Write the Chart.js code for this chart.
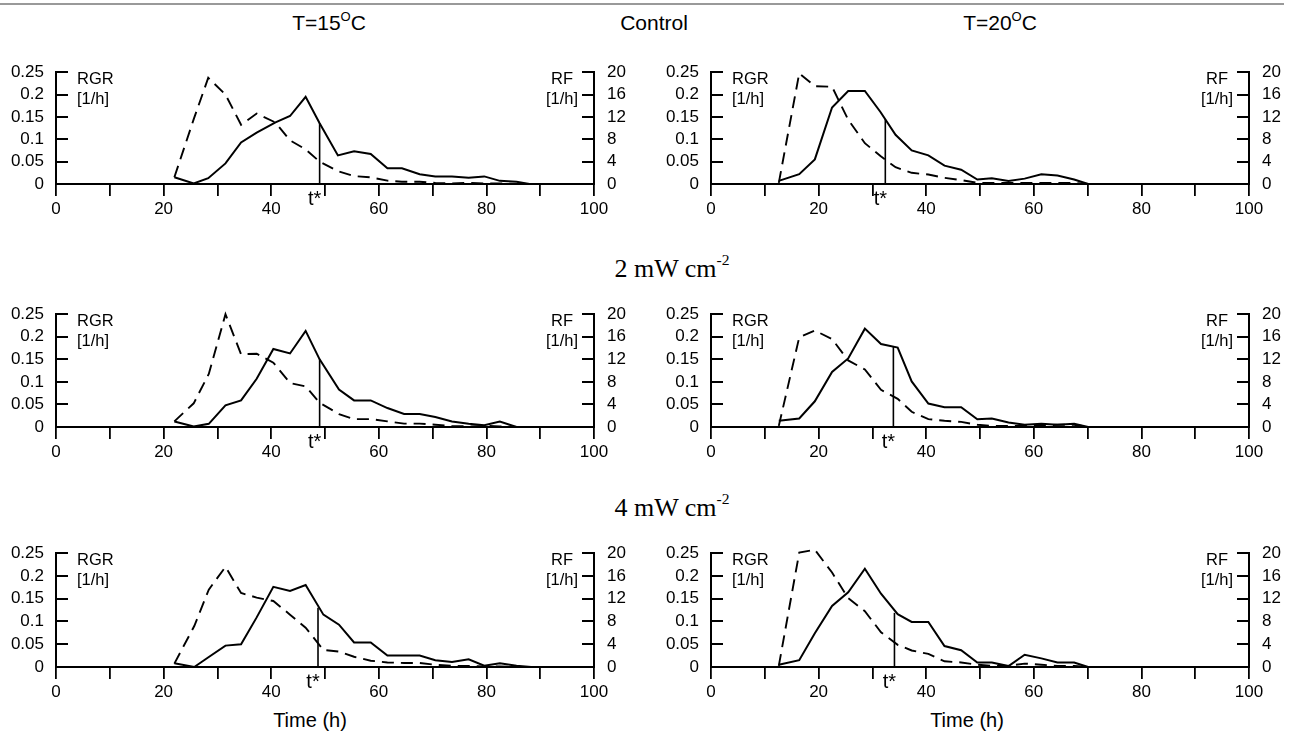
<!DOCTYPE html>
<html>
<head>
<meta charset="utf-8">
<script src="https://cdn.jsdelivr.net/npm/chart.js@4.4.1/dist/chart.umd.min.js"></script>
<style>
  body { margin: 0; background: #fff; width: 1293px; height: 737px; position: relative; overflow: hidden;
         font-family: "Liberation Sans", Arial, sans-serif; color: #000; }
  canvas { position: absolute; }
  .lbl { position: absolute; white-space: nowrap; transform: translateX(-50%); line-height: 1; }
  .lbl sup { font-size: 0.62em; vertical-align: top; position: relative; top: -2px; }
  .serif { font-family: "Liberation Serif", "Times New Roman", serif; font-size: 26px; }
  .serif sup { font-size: 0.6em; top: -4px; }
</style>
</head>
<body>
<div style="position:absolute;left:0;top:3px;width:1284px;height:2px;background:#999"></div>
<div class="lbl" style="left:329px;top:12px;font-size:21px">T=15<sup>O</sup>C</div>
<div class="lbl" style="left:654px;top:12px;font-size:21px">Control</div>
<div class="lbl" style="left:1000px;top:12px;font-size:21px">T=20<sup>O</sup>C</div>
<div class="lbl serif" style="left:672px;top:256px">2 mW cm<sup>-2</sup></div>
<div class="lbl serif" style="left:672px;top:495px">4 mW cm<sup>-2</sup></div>
<div class="lbl" style="left:310px;top:710px;font-size:20px">Time (h)</div>
<div class="lbl" style="left:967px;top:710px;font-size:20px">Time (h)</div>

<canvas id="c15ctl" width="650" height="175" style="left:0;top:49px"></canvas>
<canvas id="c20ctl" width="643" height="175" style="left:650px;top:49px"></canvas>
<canvas id="c15uv2" width="650" height="176" style="left:0;top:291px"></canvas>
<canvas id="c20uv2" width="643" height="176" style="left:650px;top:291px"></canvas>
<canvas id="c15uv4" width="650" height="177" style="left:0;top:530px"></canvas>
<canvas id="c20uv4" width="643" height="177" style="left:650px;top:530px"></canvas>

<script>
// T=15C, control
const hours15ctl = [22.0, 25.6, 28.3, 31.5, 34.4, 37.3, 40.8, 43.5, 46.4, 49.0, 52.4, 55.4, 58.5, 61.6, 64.3, 67.6, 70.5, 73.6, 76.7, 79.6, 82.5, 85.6, 88.0];
const rgr15ctl = [0.015, 0.001, 0.013, 0.046, 0.093, 0.115, 0.138, 0.152, 0.195, 0.136, 0.064, 0.073, 0.067, 0.035, 0.035, 0.022, 0.017, 0.017, 0.014, 0.017, 0.007, 0.005, 0];
const rf15ctl = [1.2, 11.6, 19.0, 16.0, 10.6, 12.6, 11.0, 7.8, 6.2, 4.0, 2.3, 1.4, 1.2, 0.6, 0.4, 0.4, 0.2, 0.1, 0.2, 0.1, 0.1, 0, 0];

// T=20C, control
const hours20ctl = [12.6, 16.4, 19.3, 22.5, 25.5, 28.6, 31.5, 34.3, 37.3, 40.4, 43.4, 46.5, 49.5, 52.2, 55.3, 58.3, 61.4, 64.4, 67.5, 70.1];
const rgr20ctl = [0.007, 0.022, 0.055, 0.171, 0.208, 0.208, 0.161, 0.110, 0.075, 0.064, 0.041, 0.032, 0.010, 0.013, 0.007, 0.012, 0.022, 0.019, 0.010, 0];
const rf20ctl = [0.2, 19.8, 17.5, 17.4, 11.5, 7.3, 5.0, 3.0, 2.0, 1.7, 1.1, 0.7, 0.2, 0.2, 0.2, 0.2, 0.2, 0.2, 0.2, 0];

// T=15C, 2 mW cm-2
const hours15uv2 = [22.0, 25.6, 28.4, 31.5, 34.4, 37.3, 40.4, 43.5, 46.4, 49.0, 52.6, 55.4, 58.5, 61.6, 64.7, 67.6, 70.5, 73.6, 76.7, 79.6, 82.5, 85.6];
const rgr15uv2 = [0.012, 0.001, 0.007, 0.048, 0.059, 0.107, 0.173, 0.163, 0.213, 0.150, 0.083, 0.059, 0.059, 0.042, 0.029, 0.029, 0.022, 0.012, 0.007, 0.004, 0.012, 0];
const rf15uv2 = [1.0, 4.2, 9.4, 20.0, 12.9, 13.0, 11.4, 7.8, 7.2, 4.3, 2.3, 1.4, 1.4, 1.0, 0.6, 0.6, 0.4, 0.2, 0.1, 0.2, 0.1, 0];

// T=20C, 2 mW cm-2
const hours20uv2 = [12.6, 16.4, 19.3, 22.5, 25.5, 28.6, 31.6, 34.7, 37.3, 40.4, 43.4, 46.5, 49.5, 52.2, 55.3, 58.3, 61.4, 64.4, 67.5, 70.1];
const rgr20uv2 = [0.014, 0.019, 0.057, 0.122, 0.152, 0.218, 0.184, 0.176, 0.101, 0.052, 0.044, 0.044, 0.017, 0.019, 0.010, 0.005, 0.007, 0.005, 0.007, 0];
const rf20uv2 = [0.2, 15.9, 17.1, 15.6, 11.8, 10.2, 6.6, 5.0, 2.7, 1.4, 1.1, 0.9, 0.4, 0.2, 0.2, 0.2, 0.2, 0.4, 0.4, 0];

// T=15C, 4 mW cm-2
const hours15uv4 = [22.0, 25.7, 28.4, 31.5, 34.4, 37.3, 40.4, 43.5, 46.4, 49.7, 52.6, 55.4, 58.5, 61.6, 64.7, 67.6, 70.5, 73.6, 76.7, 79.6, 82.5, 85.6, 88.3];
const rgr15uv4 = [0.008, 0, 0.022, 0.047, 0.050, 0.109, 0.176, 0.167, 0.180, 0.115, 0.093, 0.054, 0.054, 0.025, 0.025, 0.025, 0.015, 0.011, 0.017, 0.003, 0.008, 0.003, 0];
const rf15uv4 = [0.6, 7.2, 13.6, 17.6, 13.0, 12.2, 11.6, 9.2, 6.9, 3.0, 2.7, 1.8, 1.1, 0.8, 0.7, 0.7, 0.4, 0.2, 0.2, 0.1, 0.1, 0, 0];

// T=20C, 4 mW cm-2
const hours20uv4 = [12.6, 16.4, 19.3, 22.5, 25.5, 28.6, 31.6, 34.7, 37.3, 40.4, 43.4, 46.5, 49.5, 52.2, 55.3, 58.3, 61.4, 64.4, 67.5, 70.1];
const rgr20uv4 = [0.005, 0.015, 0.074, 0.134, 0.164, 0.216, 0.161, 0.116, 0.099, 0.099, 0.046, 0.037, 0.010, 0.010, 0.002, 0.027, 0.019, 0.010, 0.010, 0];
const rf20uv4 = [0.2, 20.1, 20.6, 16.6, 12.1, 9.8, 6.1, 3.9, 2.9, 2.3, 1.0, 0.8, 0.4, 0.2, 0.2, 0.6, 0.4, 0.2, 0.2, 0];

// t* (h) and RGR at t*, panel order: 15ctl, 20ctl, 15uv2, 20uv2, 15uv4, 20uv4
const tStar = [49.0, 32.4, 49.0, 33.9, 48.7, 34.1];
const tStarRgr = [0.136, 0.145, 0.150, 0.179, 0.130, 0.119];

const rgrTicks = [0, 0.05, 0.1, 0.15, 0.2, 0.25];
const rfTicks = [0, 4, 8, 12, 16, 20];

const FONT = '"Liberation Sans", Arial, sans-serif';

// inward y ticks + RGR / RF / t* labels
const panelDecor = {
  id: 'panelDecor',
  afterDraw(chart, args, opts) {
    const { ctx, chartArea: a, scales } = chart;
    ctx.save();
    ctx.strokeStyle = '#000';
    ctx.lineWidth = 1.8;
    ctx.beginPath();
    rgrTicks.forEach(v => {
      const py = Math.round(scales.y.getPixelForValue(v));
      ctx.moveTo(a.left, py); ctx.lineTo(a.left + 12, py);
    });
    rfTicks.forEach(v => {
      const py = Math.round(scales.y1.getPixelForValue(v));
      ctx.moveTo(a.right - 12, py); ctx.lineTo(a.right, py);
    });
    ctx.stroke();

    ctx.fillStyle = '#000';
    ctx.font = '16.5px ' + FONT;
    ctx.textBaseline = 'top';
    ctx.textAlign = 'left';
    ctx.fillText('RGR', a.left + 21, a.top - 1);
    ctx.fillText('[1/h]', a.left + 21, a.top + 19);
    ctx.textAlign = 'center';
    ctx.fillText('RF', a.right - 32, a.top - 1);
    ctx.fillText('[1/h]', a.right - 32, a.top + 19);

    ctx.font = '20px ' + FONT;
    ctx.fillText('t*', scales.x.getPixelForValue(opts.t) - 5, a.bottom + 5);
    ctx.restore();
  }
};

function createChart(element, hours, rgr, rf, idx, leftW, rightW) {
  const fmt = v => String(+v.toFixed(2));
  const data = {
    datasets: [
      {
        label: 'RGR',
        data: hours.map((h, i) => ({ x: h, y: rgr[i] })),
        yAxisID: 'y',
        borderColor: '#000',
        borderWidth: 2,
      },
      {
        label: 'RF',
        data: hours.map((h, i) => ({ x: h, y: rf[i] })),
        yAxisID: 'y1',
        borderColor: '#000',
        borderWidth: 1.9,
        borderDash: [12, 7],
      },
      {
        label: 't*',
        data: [{ x: tStar[idx], y: 0 }, { x: tStar[idx], y: tStarRgr[idx] }],
        yAxisID: 'y',
        borderColor: '#000',
        borderWidth: 1.6,
      },
    ],
  };

  const tickFont = { family: FONT, size: 17 };
  const options = {
    responsive: false,
    animation: false,
    events: [],
    layout: { padding: { top: 12, bottom: 0, left: 0, right: 0 } },
    elements: { point: { radius: 0 }, line: { tension: 0, fill: false } },
    clip: false,
    plugins: { legend: { display: false }, tooltip: { enabled: false }, panelDecor: { t: tStar[idx] } },
    scales: {
      x: {
        type: 'linear', min: 0, max: 100,
        ticks: { stepSize: 10, autoSkip: false, maxRotation: 0, color: '#000', font: tickFont, padding: 3,
                 callback: v => (v % 20 === 0 ? v : '') },
        grid: { drawOnChartArea: false, drawTicks: true, tickLength: 12, color: '#000', lineWidth: 1.8 },
        border: { display: true, color: '#000', width: 2 },
        afterFit: s => { s.height = 40; },
      },
      y: {
        position: 'left', min: 0, max: 0.25,
        afterBuildTicks: s => { s.ticks = rgrTicks.map(v => ({ value: v })); },
        ticks: { autoSkip: false, color: '#000', font: tickFont, padding: 12, callback: fmt },
        grid: { display: false, drawTicks: false },
        border: { display: true, color: '#000', width: 2 },
        afterFit: s => { s.width = leftW; },
      },
      y1: {
        position: 'right', min: 0, max: 20,
        afterBuildTicks: s => { s.ticks = rfTicks.map(v => ({ value: v })); },
        ticks: { autoSkip: false, color: '#000', font: tickFont, padding: 13 },
        grid: { display: false, drawTicks: false },
        border: { display: true, color: '#000', width: 2 },
        afterFit: s => { s.width = rightW; },
      },
    },
  };

  const ctx = document.getElementById(element);
  return new Chart(ctx, { type: 'line', data: data, options: options, plugins: [panelDecor] });
}

createChart('c15ctl', hours15ctl, rgr15ctl, rf15ctl, 0, 56, 56);
createChart('c20ctl', hours20ctl, rgr20ctl, rf20ctl, 1, 61, 44);
createChart('c15uv2', hours15uv2, rgr15uv2, rf15uv2, 2, 56, 56);
createChart('c20uv2', hours20uv2, rgr20uv2, rf20uv2, 3, 61, 44);
createChart('c15uv4', hours15uv4, rgr15uv4, rf15uv4, 4, 56, 56);
createChart('c20uv4', hours20uv4, rgr20uv4, rf20uv4, 5, 61, 44);
</script>
</body>
</html>
